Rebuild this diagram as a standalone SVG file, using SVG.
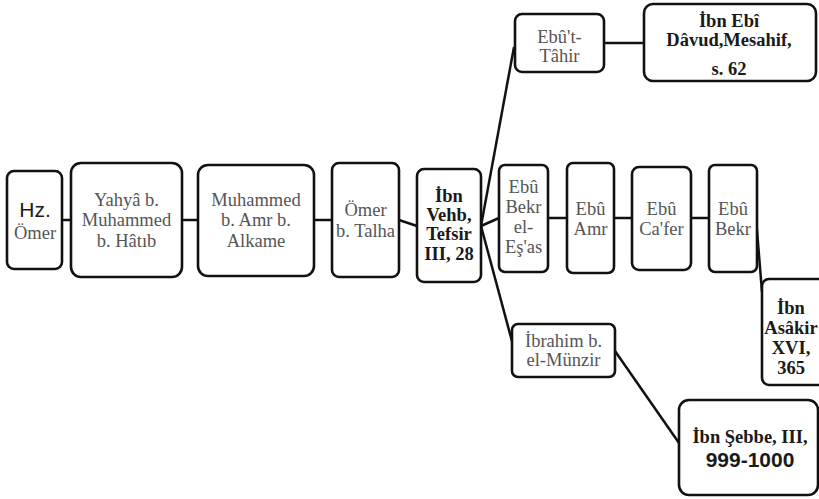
<svg xmlns="http://www.w3.org/2000/svg" width="819" height="499" viewBox="0 0 819 499">
<style>
.box{fill:#fff;stroke:#111;stroke-width:2.6}
.ln{stroke:#111;stroke-width:2.5;fill:none}
.t{font-family:"Liberation Serif","Times New Roman",serif;font-size:18.5px;fill:#555;text-anchor:middle}
.b{font-family:"Liberation Serif","Times New Roman",serif;font-size:18.5px;font-weight:bold;fill:#1a1a1a;text-anchor:middle}
.s{font-family:"Liberation Sans",Arial,sans-serif;fill:#1a1a1a;text-anchor:middle}
</style>
<rect width="819" height="499" fill="#fff"/>
<g id="connectors">
<line class="ln" x1="62" y1="220" x2="71" y2="220"/>
<line class="ln" x1="182" y1="220" x2="198" y2="220"/>
<line class="ln" x1="314" y1="220" x2="332" y2="220"/>
<line class="ln" x1="399" y1="220" x2="417" y2="226"/>
<line class="ln" x1="481" y1="226" x2="514" y2="47"/>
<line class="ln" x1="481" y1="226" x2="499" y2="218"/>
<line class="ln" x1="481" y1="226" x2="513" y2="345"/>
<line class="ln" x1="604" y1="43" x2="644" y2="43"/>
<line class="ln" x1="548" y1="218" x2="567" y2="218"/>
<line class="ln" x1="614" y1="218" x2="632" y2="218"/>
<line class="ln" x1="691" y1="218" x2="709" y2="218"/>
<line class="ln" x1="756" y1="218" x2="762" y2="292"/>
<line class="ln" x1="615" y1="351" x2="679" y2="443"/>
</g>
<g id="hz-omer">
<rect class="box" x="7" y="171" width="55" height="98" rx="7"/>
<text class="s" x="35" y="217" font-size="21">Hz.</text>
<text class="t" x="35" y="239" font-size="20">Ömer</text>
</g>
<g id="yahya">
<rect class="box" x="71" y="163" width="111" height="114" rx="10"/>
<text class="t" x="126.5" y="206">Yahyâ b.</text>
<text class="t" x="126.5" y="226">Muhammed</text>
<text class="t" x="126.5" y="247">b. Hâtıb</text>
</g>
<g id="muhammed">
<rect class="box" x="198" y="165" width="116" height="111" rx="10"/>
<text class="t" x="256" y="206">Muhammed</text>
<text class="t" x="256" y="226">b. Amr b.</text>
<text class="t" x="256" y="247">Alkame</text>
</g>
<g id="omer-talha">
<rect class="box" x="332" y="163" width="67" height="114" rx="7"/>
<text class="t" x="365.5" y="216">Ömer</text>
<text class="t" x="365.5" y="237">b. Talha</text>
</g>
<g id="ibn-vehb">
<rect class="box" x="417" y="169" width="64" height="113" rx="7"/>
<text class="b" x="449" y="202">İbn</text>
<text class="b" x="449" y="221">Vehb,</text>
<text class="b" x="449" y="240">Tefsir</text>
<text class="b" x="449" y="260">III, 28</text>
</g>
<g id="ebut-tahir">
<rect class="box" x="515" y="14" width="89" height="58" rx="7"/>
<text class="t" x="559.5" y="43">Ebû't-</text>
<text class="t" x="559.5" y="62">Tâhir</text>
</g>
<g id="ibn-ebi-davud">
<rect class="box" x="644" y="4" width="172" height="77" rx="9"/>
<text class="b" x="729" y="27" font-size="19.5">İbn Ebî</text>
<text class="b" x="729" y="46" font-size="19.5">Dâvud,Mesahif,</text>
<text class="b" x="729" y="75" font-size="19.5">s. 62</text>
</g>
<g id="ebu-bekr-esas">
<rect class="box" x="499" y="165" width="49" height="107" rx="6"/>
<text class="t" x="523.5" y="193">Ebû</text>
<text class="t" x="523.5" y="213">Bekr</text>
<text class="t" x="523.5" y="233">el-</text>
<text class="t" x="523.5" y="253">Eş'as</text>
</g>
<g id="ebu-amr">
<rect class="box" x="567" y="163" width="47" height="110" rx="6"/>
<text class="t" x="590.5" y="215">Ebû</text>
<text class="t" x="590.5" y="235">Amr</text>
</g>
<g id="ebu-cafer">
<rect class="box" x="632" y="167" width="59" height="103" rx="7"/>
<text class="t" x="661.5" y="215">Ebû</text>
<text class="t" x="661.5" y="235">Ca'fer</text>
</g>
<g id="ebu-bekr">
<rect class="box" x="709" y="165" width="48" height="107" rx="6"/>
<text class="t" x="733" y="215">Ebû</text>
<text class="t" x="733" y="235">Bekr</text>
</g>
<g id="ibn-asakir">
<rect class="box" x="762" y="279" width="70" height="106" rx="7"/>
<text class="b" x="791" y="314" font-size="17">İbn</text>
<text class="b" x="791" y="334" font-size="17">Asâkir</text>
<text class="b" x="791" y="354" font-size="17">XVI,</text>
<text class="b" x="791" y="374" font-size="17">365</text>
</g>
<g id="ibrahim">
<rect class="box" x="512" y="324" width="103" height="53" rx="6"/>
<text class="t" x="563.5" y="347">İbrahim b.</text>
<text class="t" x="563.5" y="366">el-Münzir</text>
</g>
<g id="ibn-sebbe">
<rect class="box" x="679" y="400" width="139" height="95" rx="10"/>
<text class="b" x="750" y="443" font-size="20">İbn Şebbe, III,</text>
<text class="s" x="750" y="467" font-size="21" font-weight="bold">999-1000</text>
</g>
</svg>
